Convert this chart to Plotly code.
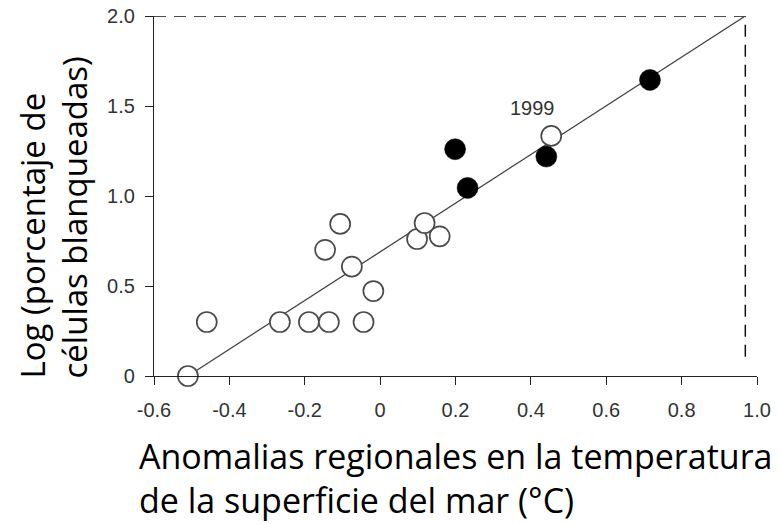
import plotly.graph_objects as go

# ---- data ----
open_x = [-0.51, -0.46, -0.266, -0.189, -0.136, -0.044, -0.018, -0.075, -0.146, -0.106, 0.098, 0.118, 0.158, 0.454]
open_y = [0.0, 0.30, 0.30, 0.30, 0.30, 0.30, 0.472, 0.608, 0.701, 0.845, 0.761, 0.85, 0.776, 1.334]
filled_x = [0.199, 0.232, 0.441, 0.716]
filled_y = [1.26, 1.045, 1.219, 1.645]
fit_x = [-0.51, 0.969]
fit_y = [0.0, 2.0]
ref_x = [-0.6, 0.969, 0.969]
ref_y = [2.0, 2.0, 0.07]
label_text = "1999"
label_x = 0.405
label_y = 1.487
x_tickvals = [-0.6, -0.4, -0.2, 0, 0.2, 0.4, 0.6, 0.8, 1.0]
x_ticktext = ["-0.6", "-0.4", "-0.2", "0", "0.2", "0.4", "0.6", "0.8", "1.0"]
y_tickvals = [0, 0.5, 1.0, 1.5, 2.0]
y_ticktext = ["0", "0.5", "1.0", "1.5", "2.0"]
x_title = ["Anomalias regionales en la temperatura", "de la superficie del mar (°C)"]
y_title = ["Log (porcentaje de", "células blanqueadas)"]

# page body has an 8px default margin; size the figure so it fills the window
OFF = 8
W, H = 780 - OFF, 524 - OFF
ML, MR, MT, MB = 154 - OFF, 23, 16 - OFF, 148
PW, PH = W - ML - MR, H - MT - MB


def px2paper_x(px):
    return (px - OFF - ML) / PW


def px2paper_y(py):
    return (H - MB - (py - OFF)) / PH


fig = go.Figure()

fig.add_trace(go.Scatter(x=ref_x, y=ref_y, mode="lines",
                         line=dict(color="#111111", width=1.5, dash="12px,8px"),
                         hoverinfo="skip", showlegend=False, cliponaxis=False))
fig.add_trace(go.Scatter(x=fit_x, y=fit_y, mode="lines",
                         line=dict(color="#444444", width=1.3),
                         hoverinfo="skip", showlegend=False, cliponaxis=False))
fig.add_trace(go.Scatter(x=open_x, y=open_y, mode="markers",
                         marker=dict(symbol="circle", size=20, color="white",
                                     line=dict(color="#4a4a4a", width=1.7)),
                         showlegend=False, cliponaxis=False))
fig.add_trace(go.Scatter(x=filled_x, y=filled_y, mode="markers",
                         marker=dict(symbol="circle", size=21, color="black",
                                     line=dict(color="black", width=0.5)),
                         showlegend=False, cliponaxis=False))

tickfont = dict(family="Liberation Sans, Arial, sans-serif", size=20, color="#333333")
xtitle_font = dict(family="Open Sans, sans-serif", size=34, color="#000000")
ytitle_font = dict(family="Open Sans, sans-serif", size=33, color="#000000")

annotations = [
    dict(x=label_x, y=label_y, xref="x", yref="y", text=label_text, showarrow=False,
         font=dict(family="Liberation Sans, Arial, sans-serif", size=20, color="#333333"),
         xanchor="center", yanchor="middle"),
    dict(x=px2paper_x(137), y=px2paper_y(477.7), xref="paper", yref="paper",
         text="<br>".join(x_title), align="left",
         showarrow=False, font=xtitle_font, xanchor="left", yanchor="middle"),
    dict(x=px2paper_x(53.5), y=px2paper_y(381), xref="paper", yref="paper",
         text="<br>".join(y_title), align="left",
         showarrow=False, font=ytitle_font, textangle=-90, xanchor="center", yanchor="bottom"),
]

fig.update_layout(
    width=W, height=H,
    margin=dict(l=ML, r=MR, t=MT, b=MB, pad=0, autoexpand=False),
    paper_bgcolor="white", plot_bgcolor="white",
    annotations=annotations,
    xaxis=dict(range=[-0.6, 1.0], tickvals=x_tickvals, ticktext=x_ticktext, automargin=False,
               showgrid=False, zeroline=False, showline=True, linecolor="#222222", linewidth=1.3,
               ticks="outside", ticklen=8, tickwidth=1.3, tickcolor="#222222",
               tickfont=tickfont, ticklabelstandoff=8, ticklabeloverflow="allow"),
    yaxis=dict(range=[0, 2.0], tickvals=y_tickvals, ticktext=y_ticktext, automargin=False,
               showgrid=False, zeroline=False, showline=True, linecolor="#222222", linewidth=1.3,
               ticks="outside", ticklen=8, tickwidth=1.3, tickcolor="#222222",
               tickfont=tickfont, ticklabelstandoff=6, ticklabeloverflow="allow"),
)

fig.write_html("out.html")
